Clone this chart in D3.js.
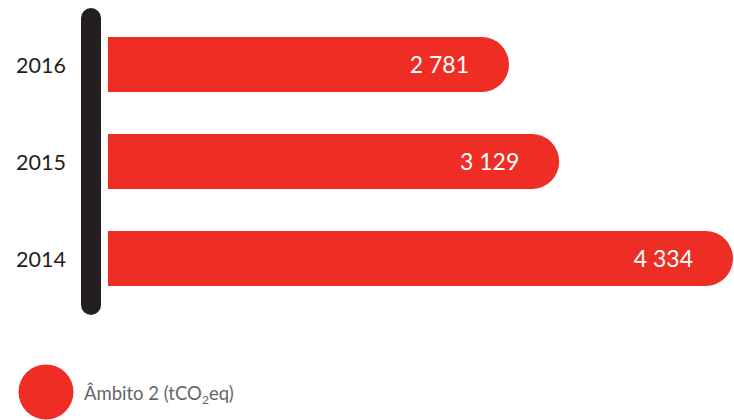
<!DOCTYPE html>
<html><head><meta charset="utf-8">
<script src="https://cdn.jsdelivr.net/npm/d3@7"></script>
<style>html,body{margin:0;padding:0;background:#fff;}svg{display:block;}</style>
</head><body>
<svg id="chart" width="734" height="420"></svg>
<script>
const years = ["2016", "2015", "2014"];
const values = [2781, 3129, 4334];
const valueLabels = ["2 781", "3 129", "4 334"];
const seriesName = "Âmbito 2 (tCO";

const svg = d3.select("#chart");
const red = "#ee2e24";
const font = "Lato, 'Open Sans', sans-serif";

const x = d3.scaleLinear().domain([0, d3.max(values)]).range([108, 733]);
const yb = d3.scaleBand().domain(years).range([37, 286]).paddingInner(42 / 97).paddingOuter(0);

// axis bar
svg.append("line").attr("x1", 91).attr("x2", 91).attr("y1", 18).attr("y2", 305)
  .attr("stroke", "#231f20").attr("stroke-width", 20).attr("stroke-linecap", "round");

function barPath(x0, x1, top, h) {
  const r = h / 2;
  return `M${x0},${top}H${x1 - r}A${r},${r} 0 0 1 ${x1},${top + r}A${r},${r} 0 0 1 ${x1 - r},${top + h}H${x0}Z`;
}

const g = svg.selectAll("g.bar").data(years).join("g").attr("class", "bar");
g.append("path")
  .attr("d", (d, i) => barPath(x(0), x(values[i]), yb(d), yb.bandwidth()))
  .attr("fill", red);
g.append("text")
  .attr("x", (d, i) => x(values[i]) - 40)
  .attr("y", d => yb(d) + yb.bandwidth() / 2 + 8)
  .attr("text-anchor", "end")
  .attr("fill", "#fff")
  .attr("font-family", font)
  .attr("font-size", 23)
  .text((d, i) => valueLabels[i]);
g.append("text")
  .attr("x", 66)
  .attr("y", d => yb(d) + yb.bandwidth() / 2 + 8)
  .attr("text-anchor", "end")
  .attr("fill", "#231f20")
  .attr("font-family", font)
  .attr("font-size", 21.5)
  .text(d => d);

// legend
svg.append("circle").attr("cx", 46).attr("cy", 392).attr("r", 27.5).attr("fill", red);
const lt = svg.append("text").attr("x", 84).attr("y", 400)
  .attr("fill", "#666").attr("font-family", font).attr("font-size", 18.5);
lt.append("tspan").text(seriesName);
lt.append("tspan").attr("font-size", 12).attr("dy", 4).text("2");
lt.append("tspan").attr("dy", -4).text("eq)");
</script>
</body></html>
